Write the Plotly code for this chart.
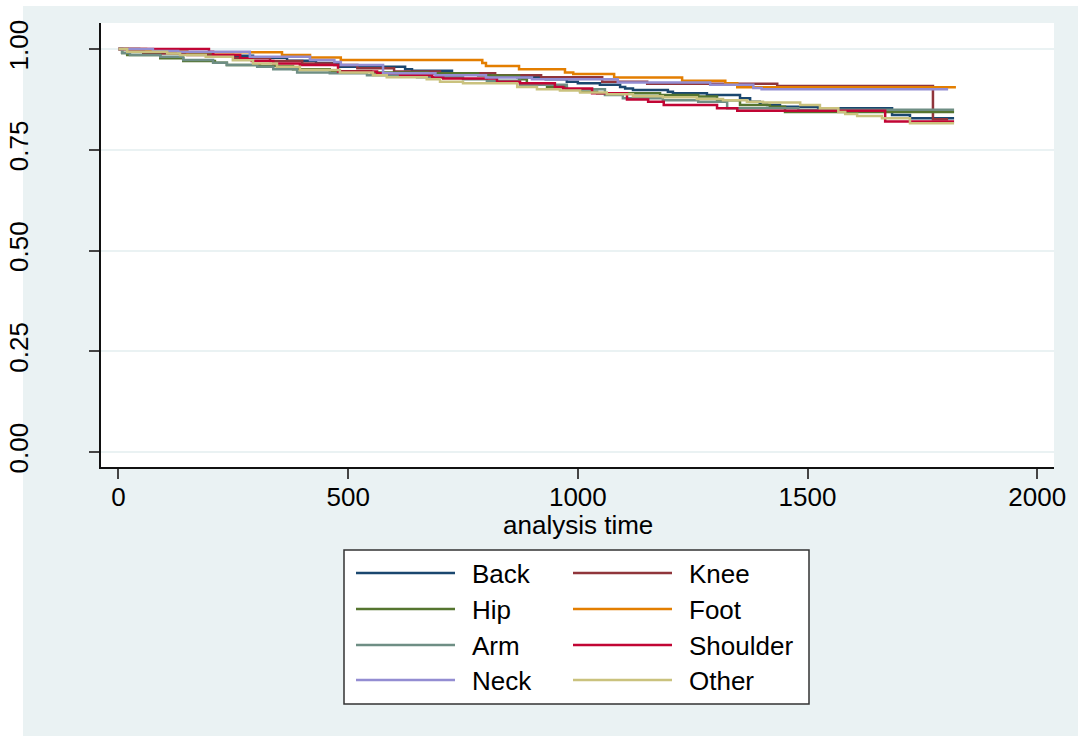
import plotly.graph_objects as go

# ---------------- data (Kaplan-Meier step estimates) ----------------
groups = ["Back", "Knee", "Hip", "Foot", "Arm", "Shoulder", "Neck", "Other"]
colors = ["#1a476f", "#90353b", "#55752f", "#e37e00", "#6e8e84", "#c10534", "#938dd2", "#cac27e"]

back_t = [0, 45, 130, 206, 293, 367, 430, 482, 624, 639, 726, 783, 809, 868, 930, 976, 1000, 1048,
          1092, 1103, 1120, 1196, 1207, 1281, 1353, 1375, 1396, 1412, 1440, 1523, 1684, 1723, 1819]
back_s = [1.0, 0.995, 0.99, 0.983, 0.978, 0.971, 0.965, 0.956, 0.95, 0.946, 0.94, 0.937, 0.934, 0.93,
          0.925, 0.919, 0.915, 0.911, 0.906, 0.902, 0.898, 0.894, 0.89, 0.886, 0.878, 0.869, 0.865,
          0.861, 0.857, 0.853, 0.836, 0.828, 0.828]

knee_t = [0, 20, 54, 150, 250, 330, 400, 470, 520, 600, 700, 820, 920, 1053, 1151, 1434, 1773, 1806]
knee_s = [1.0, 0.995, 0.989, 0.985, 0.977, 0.97, 0.964, 0.96, 0.952, 0.944, 0.94, 0.935, 0.93, 0.919,
          0.914, 0.908, 0.826, 0.826]

hip_t = [0, 8, 19, 91, 141, 210, 236, 308, 380, 460, 550, 674, 783, 872, 889, 933, 976, 1005, 1042,
         1179, 1262, 1303, 1353, 1418, 1451, 1819]
hip_s = [1.0, 0.99, 0.985, 0.977, 0.97, 0.966, 0.96, 0.958, 0.95, 0.945, 0.942, 0.94, 0.934, 0.925,
         0.915, 0.906, 0.9, 0.894, 0.89, 0.886, 0.882, 0.873, 0.861, 0.857, 0.844, 0.844]

foot_t = [0, 60, 150, 356, 417, 484, 792, 800, 872, 972, 990, 1079, 1227, 1321, 1347, 1823]
foot_s = [1.0, 0.995, 0.992, 0.985, 0.979, 0.973, 0.965, 0.958, 0.95, 0.942, 0.938, 0.929, 0.921,
          0.915, 0.905, 0.905]

arm_t = [0, 8, 25, 91, 141, 206, 236, 302, 337, 389, 460, 541, 650, 750, 802, 874, 976, 1059, 1098,
         1185, 1262, 1325, 1480, 1819]
arm_s = [1.0, 0.99, 0.985, 0.981, 0.973, 0.966, 0.96, 0.956, 0.95, 0.942, 0.94, 0.935, 0.93, 0.925,
         0.921, 0.911, 0.9, 0.886, 0.878, 0.873, 0.869, 0.853, 0.849, 0.849]

shoulder_t = [0, 197, 206, 265, 290, 337, 395, 478, 563, 613, 683, 707, 824, 874, 950, 968, 1031,
              1107, 1153, 1187, 1303, 1347, 1669, 1819]
shoulder_s = [1.0, 0.993, 0.985, 0.977, 0.97, 0.964, 0.96, 0.944, 0.94, 0.935, 0.93, 0.927, 0.919,
              0.915, 0.906, 0.902, 0.89, 0.875, 0.869, 0.861, 0.853, 0.847, 0.82, 0.82]

neck_t = [0, 75, 130, 286, 417, 470, 484, 576, 690, 800, 900, 1087, 1288, 1382, 1400, 1806]
neck_s = [1.0, 0.995, 0.993, 0.981, 0.973, 0.968, 0.96, 0.94, 0.935, 0.929, 0.925, 0.917, 0.911,
          0.903, 0.9, 0.9]

other_t = [0, 19, 106, 134, 190, 249, 293, 345, 395, 482, 554, 584, 671, 700, 750, 868, 911, 961,
           1005, 1063, 1120, 1185, 1259, 1316, 1368, 1403, 1484, 1527, 1567, 1582, 1608, 1662, 1723, 1819]
other_s = [1.0, 0.993, 0.989, 0.985, 0.981, 0.972, 0.964, 0.956, 0.948, 0.942, 0.935, 0.93, 0.925,
           0.919, 0.915, 0.906, 0.9, 0.897, 0.892, 0.888, 0.883, 0.88, 0.876, 0.873, 0.869, 0.867,
           0.861, 0.853, 0.844, 0.839, 0.834, 0.828, 0.816, 0.816]

series_t = [back_t, knee_t, hip_t, foot_t, arm_t, shoulder_t, neck_t, other_t]
series_s = [back_s, knee_s, hip_s, foot_s, arm_s, shoulder_s, neck_s, other_s]

x_ticks = [0, 500, 1000, 1500, 2000]
y_ticks = [0.0, 0.25, 0.5, 0.75, 1.0]
y_ticktext = ["0.00", "0.25", "0.50", "0.75", "1.00"]
x_title = "analysis time"

# ---------------- layout geometry (pixels) ----------------
W, H = 1078, 736
ML, MR, MT, MB = 101, 24, 23, 269
PW, PH = W - ML - MR, H - MT - MB


def px(x):
    return (x - ML) / PW


def py(y):
    return (H - MB - y) / PH


FONT = "Liberation Sans, Arial, Helvetica, sans-serif"
BG = "#eaf2f3"

fig = go.Figure()
for name, col, t, s in zip(groups, colors, series_t, series_s):
    fig.add_trace(go.Scatter(x=t, y=s, mode="lines", name=name, line=dict(color=col, width=2.5, shape="hv"),
                             showlegend=False))

shapes = []
# white strips (cropped border of original image)
shapes.append(dict(type="rect", xref="paper", yref="paper", x0=px(0), x1=px(23), y0=py(H), y1=py(0),
                   fillcolor="white", line=dict(width=0), layer="below"))
shapes.append(dict(type="rect", xref="paper", yref="paper", x0=px(0), x1=px(W), y0=py(6), y1=py(0),
                   fillcolor="white", line=dict(width=0), layer="below"))
# legend box
shapes.append(dict(type="rect", xref="paper", yref="paper", x0=px(344), x1=px(809), y0=py(704), y1=py(550),
                   fillcolor="white", line=dict(color="#333333", width=1.5), layer="above"))

annotations = []
row_y = [573, 609, 645, 680]
col_line_x = [(356, 455), (573, 672)]
col_text_x = [470, 687]
for i, (name, col) in enumerate(zip(groups, colors)):
    c = i % 2
    r = i // 2
    x0, x1 = col_line_x[c]
    yy = row_y[r]
    shapes.append(dict(type="line", xref="paper", yref="paper", x0=px(x0), x1=px(x1), y0=py(yy), y1=py(yy),
                       line=dict(color=col, width=2.5), layer="above"))
    annotations.append(dict(xref="paper", yref="paper", x=px(col_text_x[c]), y=py(yy + 1), text=name,
                            showarrow=False, xanchor="left", yanchor="middle",
                            font=dict(family=FONT, size=26, color="black")))

# x axis title as centred text below the tick labels
annotations.append(dict(xref="paper", yref="paper", x=0.5, y=py(525), text=x_title, showarrow=False,
                        xanchor="center", yanchor="middle", font=dict(family=FONT, size=26, color="black")))

fig.update_layout(
    width=W, height=H,
    margin=dict(l=ML, r=MR, t=MT, b=MB, pad=0),
    paper_bgcolor=BG, plot_bgcolor="white",
    font=dict(family=FONT, size=26, color="black"),
    shapes=shapes, annotations=annotations,
    showlegend=False,
    xaxis=dict(range=[-38, 2036.5], tickvals=x_ticks, ticktext=[str(v) for v in x_ticks],
               showgrid=False, zeroline=False, showline=True, linecolor="#111111", linewidth=2,
               ticks="outside", ticklen=10, tickwidth=2, tickcolor="#444444", automargin=False,
               ticklabelstandoff=-4,
               tickfont=dict(family=FONT, size=26, color="black")),
    yaxis=dict(range=[-0.037, 1.0645], tickvals=y_ticks, ticktext=y_ticktext,
               showgrid=True, gridcolor=BG, gridwidth=2, zeroline=False,
               showline=True, linecolor="#111111", linewidth=2, automargin=False,
               ticks="outside", ticklen=10, tickwidth=2, tickcolor="#444444", tickangle=-90,
               ticklabelstandoff=51,
               tickfont=dict(family=FONT, size=26, color="black")),
)

fig.write_html("out.html")
